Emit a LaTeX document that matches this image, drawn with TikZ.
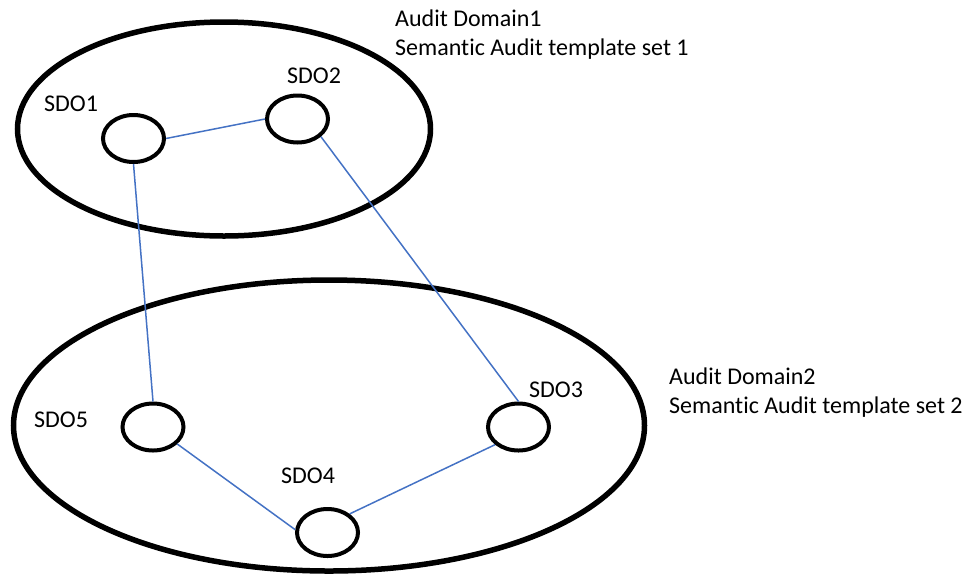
\documentclass[tikz,border=0pt]{standalone}
\usepackage{fontspec}
\setmainfont[Ligatures=NoCommon]{Carlito}
\usetikzlibrary{shapes.geometric}
\definecolor{linkblue}{HTML}{4472C4}
\tikzset{
  domainring/.style={draw=black, ellipse, inner sep=0pt, line width=5.5pt},
  sdo/.style={draw=black, ellipse, inner sep=0pt, line width=4pt,
              minimum width=61pt, minimum height=47pt},
  link/.style={draw=linkblue, line width=1.5pt},
  lbl/.style={inner sep=0pt, anchor=base west, font=\fontsize{24}{29}\selectfont},
}
\begin{document}
\begin{tikzpicture}[x=1pt, y=-1pt]
  \useasboundingbox (0,0) rectangle (965,574);

  % audit domains
  \node[domainring, minimum width=413pt, minimum height=214pt] (dom1) at (224,129) {};
  \node[domainring, minimum width=631pt, minimum height=291pt] (dom2) at (329,425.5) {};

  % semantic data objects
  \node[sdo] (sdo1) at (133.5,138.5) {};
  \node[sdo] (sdo2) at (297.5,119) {};
  \node[sdo] (sdo3) at (518.5,427) {};
  \node[sdo] (sdo4) at (327.5,532.5) {};
  \node[sdo] (sdo5) at (153,427) {};

  % labels
  \node[lbl] (l1) at (44,111) {SDO1};
  \node[lbl] (l2) at (287,83) {SDO2};
  \node[lbl] (l3) at (529,397) {SDO3};
  \node[lbl] (l4) at (281,483) {SDO4};
  \node[lbl] (l5) at (34,427) {SDO5};

  \node[lbl] (d1a) at (395,26.5) {Audit Domain1};
  \node[lbl] (d1b) at (395,55) {Semantic Audit template set 1};
  \node[lbl] (d2a) at (669,384) {Audit Domain2};
  \node[lbl] (d2b) at (669,413) {Semantic Audit template set 2};

  % links
  \draw[link] (sdo1.east) -- (sdo2.west);
  \draw[link] (sdo1.south) -- (sdo5.north);
  \draw[link] (sdo2.-37) -- (sdo3.north);
  \draw[link] (sdo5.-35) -- (sdo4.175);
  \draw[link] (sdo4.40) -- (sdo3.217);
\end{tikzpicture}
\end{document}
